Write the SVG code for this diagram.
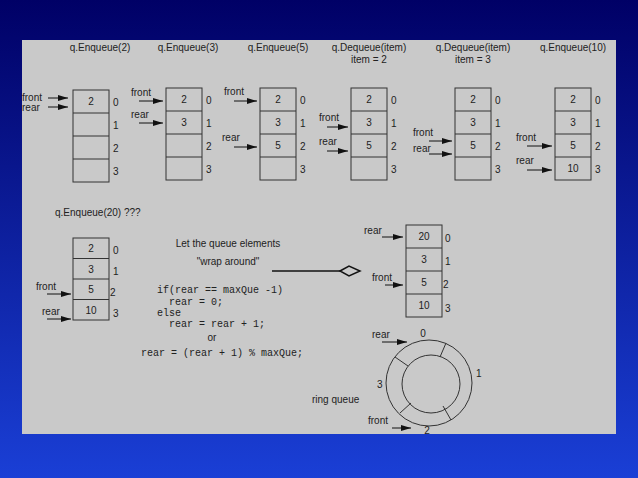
<svg xmlns="http://www.w3.org/2000/svg" width="638" height="478" viewBox="0 0 638 478">
<defs>
<linearGradient id="bg" x1="0" y1="0" x2="0" y2="1"><stop offset="0" stop-color="#000066"/><stop offset="1" stop-color="#1a3fd6"/></linearGradient>
<marker id="ar" viewBox="0 0 10 6" refX="10" refY="3" markerWidth="10" markerHeight="6" markerUnits="userSpaceOnUse" orient="auto"><path d="M0,0L10,3L0,6z" fill="#111"/></marker>
<g id="cell4"><rect x="0" y="0" width="36" height="92" fill="none" stroke="#333"/><path d="M0,23H36M0,46H36M0,69H36" stroke="#333"/></g>
</defs>
<style>
text{font-family:"Liberation Sans",Arial,sans-serif;font-size:10px;fill:#222}
.c{text-anchor:middle}
.m{font-family:"Liberation Mono","Courier New",monospace;font-size:10px;white-space:pre}
.a{stroke:#111;stroke-width:1;fill:none;marker-end:url(#ar)}
</style>
<rect width="638" height="478" fill="url(#bg)"/>
<rect x="22" y="40" width="594" height="394" fill="#c9c9c9"/>
<g id="titles">
<text x="100" y="51" class="c">q.Enqueue(2)</text>
<text x="188" y="51" class="c">q.Enqueue(3)</text>
<text x="278" y="51" class="c">q.Enqueue(5)</text>
<text x="369" y="51" class="c">q.Dequeue(item)</text>
<text x="369" y="63" class="c">item = 2</text>
<text x="473" y="51" class="c">q.Dequeue(item)</text>
<text x="473" y="63" class="c">item = 3</text>
<text x="573" y="51" class="c">q.Enqueue(10)</text>
<text x="55" y="216">q.Enqueue(20) ???</text>
</g>
<g id="q1"><use href="#cell4" x="73" y="90"/><text x="91" y="105" class="c">2</text>
<text x="113" y="106">0</text><text x="113" y="129">1</text><text x="113" y="152">2</text><text x="113" y="175">3</text></g>
<g id="q2"><use href="#cell4" x="166" y="88"/><text x="184" y="103" class="c">2</text><text x="184" y="126" class="c">3</text>
<text x="206" y="104">0</text><text x="206" y="127">1</text><text x="206" y="150">2</text><text x="206" y="173">3</text></g>
<g id="q3"><use href="#cell4" x="260" y="88"/><text x="278" y="103" class="c">2</text><text x="278" y="126" class="c">3</text><text x="278" y="149" class="c">5</text>
<text x="300" y="104">0</text><text x="300" y="127">1</text><text x="300" y="150">2</text><text x="300" y="173">3</text></g>
<g id="q4"><use href="#cell4" x="351" y="88"/><text x="369" y="103" class="c">2</text><text x="369" y="126" class="c">3</text><text x="369" y="149" class="c">5</text>
<text x="391" y="104">0</text><text x="391" y="127">1</text><text x="391" y="150">2</text><text x="391" y="173">3</text></g>
<g id="q5"><use href="#cell4" x="455" y="88"/><text x="473" y="103" class="c">2</text><text x="473" y="126" class="c">3</text><text x="473" y="149" class="c">5</text>
<text x="495" y="104">0</text><text x="495" y="127">1</text><text x="495" y="150">2</text><text x="495" y="173">3</text></g>
<g id="q6"><use href="#cell4" x="555" y="88"/><text x="573" y="103" class="c">2</text><text x="573" y="126" class="c">3</text><text x="573" y="149" class="c">5</text><text x="573" y="172" class="c">10</text>
<text x="595" y="104">0</text><text x="595" y="127">1</text><text x="595" y="150">2</text><text x="595" y="173">3</text></g>
<g id="q7"><rect x="73" y="238" width="36" height="82" fill="none" stroke="#333"/><path d="M73,258.5H109M73,279H109M73,299.5H109" stroke="#333"/>
<text x="91" y="252" class="c">2</text><text x="91" y="273" class="c">3</text><text x="91" y="293" class="c">5</text><text x="91" y="314" class="c">10</text>
<text x="113" y="254">0</text><text x="113" y="275">1</text><text x="110" y="296">2</text><text x="113" y="317">3</text></g>
<g id="q8"><rect x="406" y="225" width="36" height="92" fill="none" stroke="#333"/><path d="M406,248H442M406,271H442M406,294H442" stroke="#333"/>
<text x="424" y="240" class="c">20</text><text x="424" y="263" class="c">3</text><text x="424" y="286" class="c">5</text><text x="424" y="309" class="c">10</text>
<text x="445" y="242">0</text><text x="445" y="265">1</text><text x="443" y="288">2</text><text x="445" y="312">3</text></g>
<g id="ring"><circle cx="429" cy="383" r="43" fill="none" stroke="#333"/><circle cx="431" cy="384" r="29" fill="none" stroke="#333"/>
<path d="M446,343L440,357M395,357L408,366M400,413L411,403M443,406L451,420" stroke="#333"/>
<text x="423" y="337" class="c">0</text><text x="476" y="377">1</text><text x="427" y="434" class="c">2</text><text x="377" y="388">3</text>
<text x="312" y="403">ring queue</text></g>
<g id="texts">
<text x="228" y="247" class="c">Let the queue elements</text>
<text x="228" y="265" class="c">"wrap around"</text>
<text x="157" y="293" class="m">if(rear == maxQue -1)</text>
<text x="169" y="305" class="m">rear = 0;</text>
<text x="157" y="316" class="m">else</text>
<text x="169" y="327" class="m">rear = rear + 1;</text>
<text x="212" y="341" class="c">or</text>
<text x="141" y="356" class="m">rear = (rear + 1) % maxQue;</text>
</g>
<g id="connectors">
<text x="22" y="101">front</text><path class="a" d="M48,98H68"/>
<text x="22" y="111">rear</text><path class="a" d="M48,107H68"/>
<text x="131" y="96">front</text><path class="a" d="M139,101H163"/>
<text x="131" y="118">rear</text><path class="a" d="M139,123H163"/>
<text x="224" y="95">front</text><path class="a" d="M234,101H257"/>
<text x="222" y="141">rear</text><path class="a" d="M234,147H257"/>
<text x="319" y="121">front</text><path class="a" d="M327,127H348"/>
<text x="319" y="145">rear</text><path class="a" d="M327,151H348"/>
<text x="413" y="136">front</text><path class="a" d="M429,141H452"/>
<text x="413" y="152">rear</text><path class="a" d="M429,154H452"/>
<text x="516" y="141">front</text><path class="a" d="M527,146H552"/>
<text x="516" y="164">rear</text><path class="a" d="M527,170H552"/>
<text x="36" y="290">front</text><path class="a" d="M47,294H71"/>
<text x="42" y="315">rear</text><path class="a" d="M47,319H71"/>
<text x="364" y="234">rear</text><path class="a" d="M382,237H403"/>
<text x="372" y="281">front</text><path class="a" d="M385,285H403"/>
<text x="372" y="338">rear</text><path class="a" d="M382,342H407"/>
<text x="368" y="424">front</text><path class="a" d="M392,428H411"/>
<path d="M272,271H340" stroke="#111" stroke-width="1.5"/><path d="M340,271L349,266L360,271L349,276z" fill="none" stroke="#111" stroke-width="1.5"/>
</g>
</svg>
